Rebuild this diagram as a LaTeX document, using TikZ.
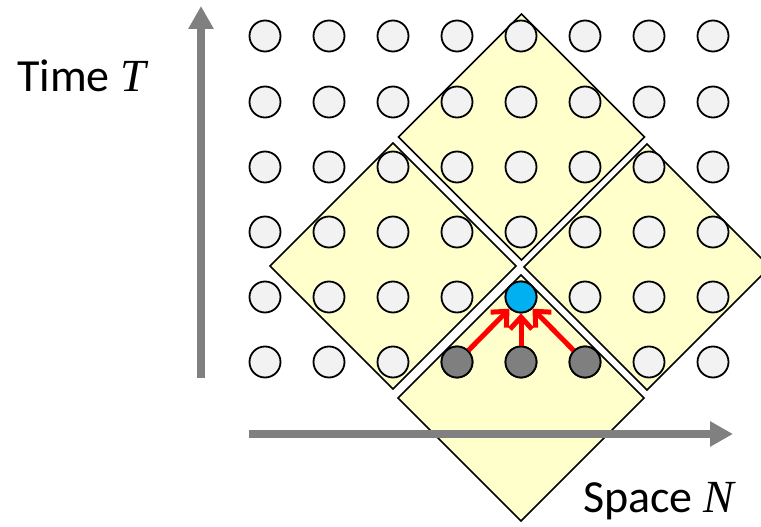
\documentclass[tikz,border=0pt]{standalone}
\usepackage{fontspec}
\setmainfont{Carlito}
\newfontfamily\varserif{Liberation Serif}
\usetikzlibrary{arrows.meta}
\definecolor{cellfill}{HTML}{F2F2F2}
\definecolor{boxfill}{HTML}{FFFFCC}
\definecolor{axisgray}{HTML}{808080}
\definecolor{depgray}{HTML}{7F7F7F}
\definecolor{targetblue}{HTML}{00B0F0}
\definecolor{deparrow}{HTML}{FF0000}
\newcommand{\varname}[1]{{\varserif\itshape #1}}
\tikzset{
  cell/.style={circle, draw=black, line width=1.8pt, fill=cellfill, minimum size=31pt, inner sep=0pt},
  depcell/.style={cell, fill=depgray},
  targetcell/.style={cell, fill=targetblue},
  tile/.style={draw=black, line width=1.6pt, fill=boxfill, line join=miter},
  axis/.style={draw=axisgray, line width=8pt, -{Triangle[width=24pt,length=23pt]}},
  dep/.style={draw=deparrow, line width=5pt, -{Straight Barb[length=12pt,width=22pt]}},
  lbl/.style={inner sep=0pt, anchor=base west, font=\fontsize{46}{50}\selectfont}
}
\begin{document}
\begin{tikzpicture}[x=1pt,y=-1pt]
\useasboundingbox (0,0) rectangle (761,527);
% tiles
\path[tile] (521.5,14) -- (644.5,137) -- (521.5,260) -- (398.5,137) -- cycle;
\path[tile] (393,143) -- (516,266) -- (393,389) -- (270,266) -- cycle;
\path[tile] (647,144) -- (770,267) -- (647,390) -- (524,267) -- cycle;
\path[tile] (521,275) -- (644,398) -- (521,521) -- (398,398) -- cycle;
% axes
\coordinate (tbot) at (201,378);
\coordinate (ttop) at (201,6);
\coordinate (sleft) at (249,434);
\coordinate (sright) at (733,434);
\draw[axis] (tbot) -- (ttop);
\draw[axis] (sleft) -- (sright);
% grid of cells
\foreach \r/\y in {0/36,1/102,2/167,3/232,4/297,5/362}{
  \foreach \c in {0,...,7}{
    \node[cell] (c\r\c) at ({265+64*\c},\y) {};
  }
}
\node[depcell] (c53) at (457,362) {};
\node[depcell] (c54) at (521,362) {};
\node[depcell] (c55) at (585,362) {};
\node[targetcell] (c44) at (521,297) {};
% dependency arrows
\draw[dep] (c53) -- (c44);
\draw[dep] (c54) -- (c44);
\draw[dep] (c55) -- (c44);
% labels
\node[lbl] (tl) at (17,92) {Time \varname{T}};
\node[lbl] (sl) at (583,512) {Space \varname{N}};
\end{tikzpicture}
\end{document}
